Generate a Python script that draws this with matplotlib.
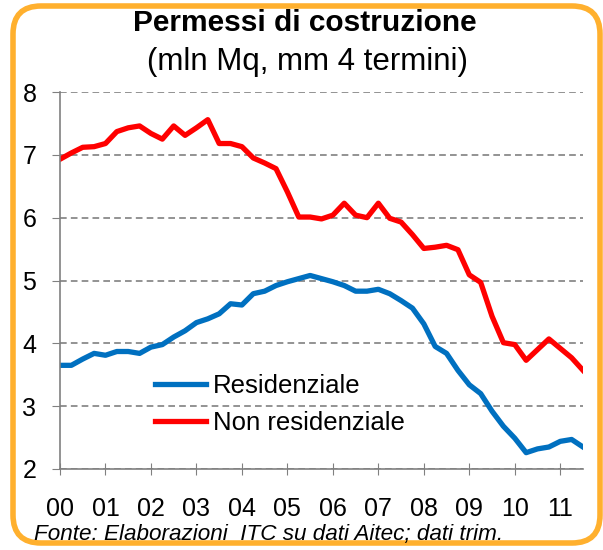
import matplotlib.pyplot as plt
from matplotlib.patches import FancyBboxPatch
from matplotlib.transforms import IdentityTransform

plt.rcParams['font.family'] = ['Liberation Sans', 'DejaVu Sans']

# quarterly data, 2000 Q1 - 2011 Q3 (mln Mq, moving average of 4 quarters)
years = ['00', '01', '02', '03', '04', '05', '06', '07', '08', '09', '10', '11']
residenziale = [3.65, 3.65, 3.75, 3.84, 3.81, 3.87, 3.87, 3.84, 3.94, 3.98,
                4.10, 4.20, 4.33, 4.39, 4.47, 4.63, 4.61, 4.79, 4.83, 4.92,
                4.98, 5.03, 5.08, 5.03, 4.98, 4.92, 4.83, 4.83, 4.86, 4.79,
                4.68, 4.56, 4.31, 3.95, 3.84, 3.57, 3.34, 3.20, 2.92, 2.68,
                2.49, 2.26, 2.32, 2.35, 2.44, 2.47, 2.35]
non_residenziale = [6.93, 7.03, 7.12, 7.13, 7.18, 7.37, 7.43, 7.46, 7.34, 7.25,
                    7.46, 7.31, 7.43, 7.56, 7.18, 7.18, 7.13, 6.95, 6.87, 6.78,
                    6.41, 6.01, 6.01, 5.98, 6.04, 6.23, 6.04, 6.00, 6.23, 5.99,
                    5.93, 5.73, 5.51, 5.53, 5.56, 5.49, 5.09, 4.97, 4.43, 4.01,
                    3.98, 3.73, 3.90, 4.07, 3.92, 3.77, 3.57]

fig = plt.figure(figsize=(6.03, 5.5), dpi=100)
ax = fig.add_axes([60/603, 1-469/550, 523/603, 377/550])

x = range(len(residenziale))
ax.plot(x, residenziale, color='#0070C0', lw=3.8, label='Residenziale')
ax.plot(x, non_residenziale, color='#FF0000', lw=3.8, label='Non residenziale')

ax.set_xlim(0, len(residenziale) - 1)
ax.set_ylim(2, 8)
ax.set_yticks(range(2, 9))
ax.set_xticks(range(0, 4*len(years), 4))
ax.set_xticklabels(years)
ax.tick_params(axis='both', labelsize=18, colors='#808080', labelcolor='black')
ax.tick_params(axis='x', direction='inout', length=9, pad=16)
ax.tick_params(axis='y', direction='out', length=6, pad=11)
ax.grid(axis='y', color='#808080', ls=(0, (4, 2.5)), lw=1.2)
for s in ['top', 'right']:
    ax.spines[s].set_visible(False)
for s in ['left', 'bottom']:
    ax.spines[s].set_color('#808080')
    ax.spines[s].set_linewidth(1.2)

leg = ax.legend(loc='upper left', bbox_to_anchor=(155, 550-374),
                bbox_transform=IdentityTransform(), frameon=False,
                fontsize=18.5, handlelength=2.0, handletextpad=0.25,
                labelspacing=0.5, borderaxespad=0, borderpad=0)

fig.text(0.505, 0.958, 'Permessi di costruzione', ha='center', va='center',
         fontsize=21.5, fontweight='bold')
fig.text(0.51, 0.887, '(mln Mq, mm 4 termini)', ha='center', va='center',
         fontsize=22.5)
fig.text(0.445, 0.028, 'Fonte: Elaborazioni  ITC su dati Aitec; dati trim.',
         ha='center', va='center', fontsize=16.2, style='italic')

border = FancyBboxPatch((13, 7), 587, 537, boxstyle='round,pad=0,rounding_size=28',
                        transform=IdentityTransform(), fill=False,
                        edgecolor='#FFB02E', lw=4, clip_on=False)
fig.patches.append(border)

fig.savefig('out.png', dpi=100)
